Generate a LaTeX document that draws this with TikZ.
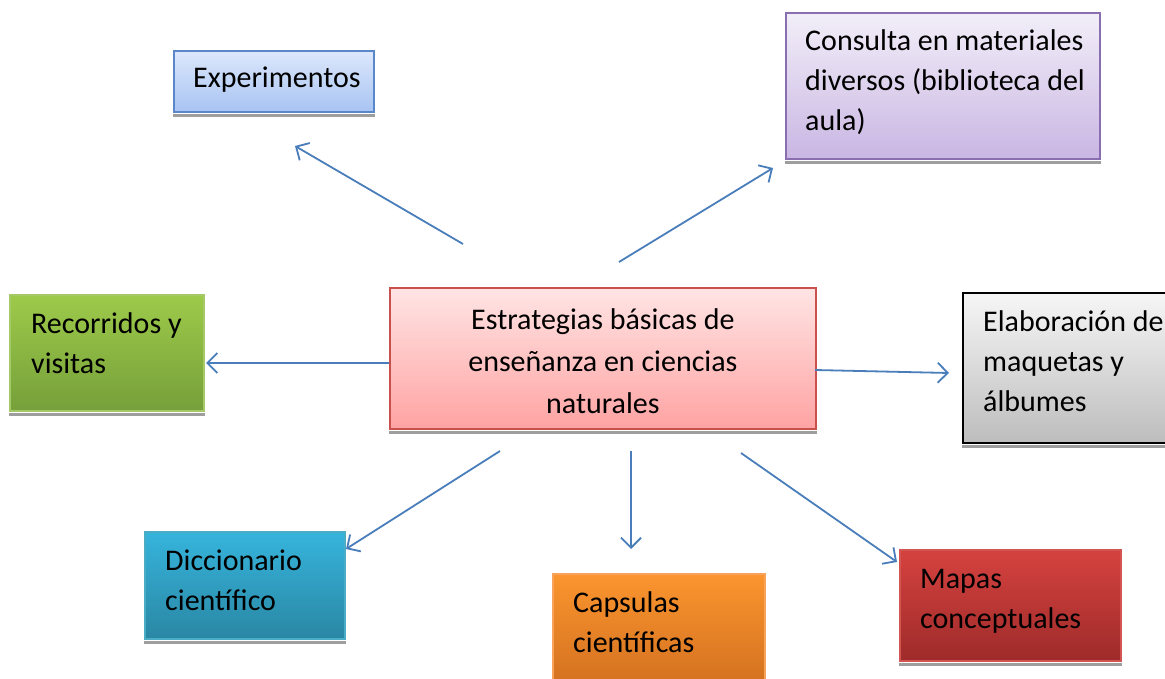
\documentclass[tikz,border=0pt]{standalone}
\usepackage{fontspec}
\setmainfont{Carlito}
\usetikzlibrary{arrows.meta,calc}
\definecolor{arrowblue}{HTML}{4A7EBB}
\definecolor{expT}{HTML}{DCE7FB}\definecolor{expB}{HTML}{A8C4F3}\definecolor{expD}{HTML}{5A87C9}
\definecolor{conT}{HTML}{F2EEF8}\definecolor{conB}{HTML}{C9B6E3}\definecolor{conD}{HTML}{8A6FB0}
\definecolor{cenT}{HTML}{FFE4E4}\definecolor{cenB}{HTML}{FFA3A3}\definecolor{cenD}{HTML}{C8504D}
\definecolor{recT}{HTML}{9DCA4A}\definecolor{recB}{HTML}{76A03A}\definecolor{recD}{HTML}{A6C968}
\definecolor{elaT}{HTML}{F6F6F6}\definecolor{elaB}{HTML}{BDBDBD}\definecolor{elaD}{HTML}{000000}
\definecolor{dicT}{HTML}{36B4DC}\definecolor{dicB}{HTML}{2A87A4}\definecolor{dicD}{HTML}{4BACC6}
\definecolor{capT}{HTML}{FB952F}\definecolor{capB}{HTML}{D06E1E}\definecolor{capD}{HTML}{F9A35A}
\definecolor{mapT}{HTML}{D5423F}\definecolor{mapB}{HTML}{9E2B2A}\definecolor{mapD}{HTML}{D25552}
\tikzset{
  box/.style={draw=#1D, line width=1.8pt, top color=#1T, bottom color=#1B,
    rectangle, inner sep=0pt, anchor=north west},
  txt/.style={font=\fontsize{30}{40}\selectfont, inner sep=0pt, align=left, anchor=base west},
  ctxt/.style={font=\fontsize{30}{42}\selectfont, inner sep=0pt, align=center, anchor=base},
  shadowstrip/.style={fill=black!38},
  conn/.style={draw=arrowblue, line width=1.8pt, -{Straight Barb[length=10pt,width=20pt,line width=1.8pt]}}
}
\begin{document}
\begin{tikzpicture}[x=1pt,y=-1pt]
\path[use as bounding box] (0,0) rectangle (1165,679);
\clip (0,0) rectangle (1165,679);
\fill[white] (0,0) rectangle (1165,679);

% boxes
\node (exp) [box=exp, minimum width=200pt, minimum height=61pt] at (173,50) {};
\node (con) [box=con, minimum width=314pt, minimum height=146pt] at (785,12) {};
\node (cen) [box=cen, minimum width=426pt, minimum height=141pt] at (389,287) {};
\node (rec) [box=rec, minimum width=194pt, minimum height=116pt] at (9,294) {};
\node (ela) [box=ela, minimum width=210pt, minimum height=150pt] at (962,292) {};
\node (dic) [box=dic, minimum width=200pt, minimum height=107pt] at (144,531) {};
\node (cap) [box=cap, minimum width=212pt, minimum height=120pt] at (552,573) {};
\node (map) [box=map, minimum width=221pt, minimum height=111pt] at (899,549) {};

% shadow strips
\foreach \b in {exp,con,cen,rec,ela,dic,map}
  \fill[shadowstrip] ($(\b.south west)+(0,1)$) rectangle ($(\b.south east)+(0,4.5)$);

% texts (anchored at the baseline of the last line)
\node[txt] at ($(exp.north west)+(20,38)$) {Experimentos};
\node[txt] at ($(con.north west)+(20,119)$) {Consulta en materiales\\diversos (biblioteca del\\aula)};
\node[ctxt] at ($(cen.north)+(0,126)$) {Estrategias básicas de\\enseñanza en ciencias\\naturales};
\node[txt] at ($(rec.north west)+(22,79)$) {Recorridos y\\visitas};
\node[txt] at ($(ela.north west)+(21,119)$) {Elaboración de\\maquetas y\\álbumes};
\node[txt] at ($(dic.north west)+(21,79)$) {Diccionario\\científico};
\node[txt] at ($(cap.north west)+(21,79)$) {Capsulas\\científicas};
\node[txt] at ($(map.north west)+(21,79)$) {Mapas\\conceptuales};

% connector ends
\coordinate (s1) at (463,244); \coordinate (e1) at (295,146);
\coordinate (s2) at (619,262); \coordinate (e2) at (773,168);
\coordinate (s3) at (389,363); \coordinate (e3) at (206,363);
\coordinate (s4) at (815,370); \coordinate (e4) at (949,373);
\coordinate (s5) at (500,451); \coordinate (e5) at (346,549);
\coordinate (s6) at (631,451); \coordinate (e6) at (631,549);
\coordinate (s7) at (741,453); \coordinate (e7) at (897,562);

\draw[conn] (s1) -- (e1);
\draw[conn] (s2) -- (e2);
\draw[conn] (s3) -- (e3);
\draw[conn] (s4) -- (e4);
\draw[conn] (s5) -- (e5);
\draw[conn] (s6) -- (e6);
\draw[conn] (s7) -- (e7);
\end{tikzpicture}
\end{document}
